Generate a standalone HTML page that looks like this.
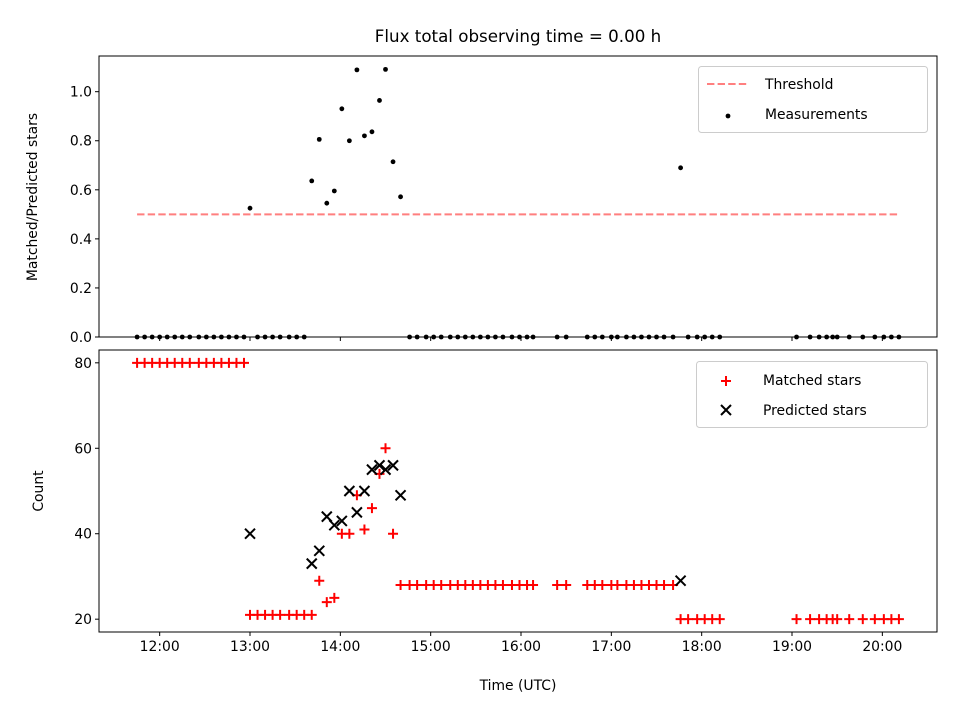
<!DOCTYPE html>
<html><head><meta charset="utf-8"><style>
body{margin:0;background:#fff}
svg{display:block;font-family:"DejaVu Sans","Liberation Sans",sans-serif}
</style></head><body>
<svg id="chart" width="960" height="720" viewBox="0 0 960 720"></svg>
<script>
// times in minutes since midnight (UTC)
const times = [705,710,715,720,725,730,735,740,746,751,756,761,766,771,776,
 780,785,790,795,800,806,811,816,821,
 826,831,836,841,846,851,856,861,866,870,875,880,
 886,891,897,902,907,913,918,923,928,933,938,943,948,954,959,964,968,
 984,990,
 1004,1009,1014,1020,1024,1030,1035,1040,1045,1050,1055,1061,
 1066,1071,1077,1082,1087,1092,
 1143,1152,1158,1163,1167,1170,1178,1187,1195,1201,1206,1211];
const matched = [80,80,80,80,80,80,80,80,80,80,80,80,80,80,80,
 21,21,21,21,21,21,21,21,21,
 29,24,25,40,40,49,41,46,54,60,40,28,
 28,28,28,28,28,28,28,28,28,28,28,28,28,28,28,28,28,
 28,28,
 28,28,28,28,28,28,28,28,28,28,28,28,
 20,20,20,20,20,20,
 20,20,20,20,20,20,20,20,20,20,20,20];
const predicted = [0,0,0,0,0,0,0,0,0,0,0,0,0,0,0,
 40,0,0,0,0,0,0,0,33,
 36,44,42,43,50,45,50,55,56,55,56,49,
 0,0,0,0,0,0,0,0,0,0,0,0,0,0,0,0,0,
 0,0,
 0,0,0,0,0,0,0,0,0,0,0,0,
 29,0,0,0,0,0,
 0,0,0,0,0,0,0,0,0,0,0,0];
const threshold = 0.5;
const xTicks = [720,780,840,900,960,1020,1080,1140,1200];
const topTicks = [0,0.2,0.4,0.6,0.8,1.0];
const botTicks = [20,40,60,80];

const svg = document.getElementById('chart');
const NS = 'http://www.w3.org/2000/svg';
function mk(tag, attrs, parent){const e=document.createElementNS(NS,tag);for(const k in attrs)e.setAttribute(k,attrs[k]);(parent||svg).appendChild(e);return e;}

const L=99,R=937, T1=56,B1=337, T2=350,B2=632;
const tmin=Math.min(...times), tmax=Math.max(...times), span=tmax-tmin;
const x0=tmin-0.05*span, x1=tmax+0.05*span;
const sx=t=>L+(t-x0)/(x1-x0)*(R-L);
const ratio=times.map((t,i)=>predicted[i]>0?matched[i]/predicted[i]:0);
const rmax=Math.max(...ratio);
const yTopMax=rmax*1.05;
const syT=v=>B1-v/yTopMax*(B1-T1);
const vals=matched.concat(predicted.filter(p=>p>0));
const bmin=Math.min(...vals), bmax=Math.max(...vals), bs=bmax-bmin;
const b0=bmin-0.05*bs, b1=bmax+0.05*bs;
const syB=v=>B2-(v-b0)/(b1-b0)*(B2-T2);

// title
let tt=mk('text',{x:518,y:42,'text-anchor':'middle','font-size':'16.7'});
tt.textContent='Flux total observing time = 0.00 h';



// top panel
const gTop=mk('g',{});


let th=mk('line',{x1:sx(tmin),x2:sx(tmax),y1:syT(threshold),y2:syT(threshold),stroke:'#ff7f7f','stroke-width':2,'stroke-dasharray':'7.4,3.2'},gTop);


times.forEach((t,i)=>{
  const c=mk('circle',{cx:sx(t),cy:syT(ratio[i]),r:2.4,fill:'#000'},gTop);
  
  
});
// bottom panel
const gBot=mk('g',{});


times.forEach((t,i)=>{
  const x=sx(t), y=syB(matched[i]);
  const p=mk('path',{d:`M${x-5},${y}H${x+5}M${x},${y-5}V${y+5}`,stroke:'#f00','stroke-width':2},gBot);
  
  
});
times.forEach((t,i)=>{
  if(predicted[i]<=0)return;
  const x=sx(t), y=syB(predicted[i]);
  const p=mk('path',{d:`M${x-5},${y-5}L${x+5},${y+5}M${x-5},${y+5}L${x+5},${y-5}`,stroke:'#000','stroke-width':2},gBot);
  
  
});

// axes frames
const f1=mk('rect',{x:L,y:T1,width:R-L,height:B1-T1,fill:'none',stroke:'#000','stroke-width':1});


const f2=mk('rect',{x:L,y:T2,width:R-L,height:B2-T2,fill:'none',stroke:'#000','stroke-width':1});



// x ticks
xTicks.forEach(t=>{
  const x=sx(t);
  mk('line',{x1:x,x2:x,y1:B1,y2:B1+4,stroke:'#000'});
  mk('line',{x1:x,x2:x,y1:B2,y2:B2+4,stroke:'#000'});
  const lb=mk('text',{x:x,y:B2+19,'text-anchor':'middle','font-size':'13.9'});
  lb.textContent=String(Math.floor(t/60)).padStart(2,'0')+':'+String(t%60).padStart(2,'0');
  
  
});
topTicks.forEach(v=>{
  const y=syT(v);
  mk('line',{x1:L-4,x2:L,y1:y,y2:y,stroke:'#000'});
  const lb=mk('text',{x:L-7,y:y+5,'text-anchor':'end','font-size':'13.9'});
  lb.textContent=v.toFixed(1);
  
  
});
botTicks.forEach(v=>{
  const y=syB(v);
  mk('line',{x1:L-4,x2:L,y1:y,y2:y,stroke:'#000'});
  const lb=mk('text',{x:L-7,y:y+5,'text-anchor':'end','font-size':'13.9'});
  lb.textContent=String(v);
  
  
});
let xl=mk('text',{x:518,y:690,'text-anchor':'middle','font-size':'13.9'});
xl.textContent='Time (UTC)';


let y1l=mk('text',{x:37,y:197,'text-anchor':'middle','font-size':'13.9',transform:'rotate(-90 37 197)'});
y1l.textContent='Matched/Predicted stars';


let y2l=mk('text',{x:43,y:491,'text-anchor':'middle','font-size':'13.9',transform:'rotate(-90 43 491)'});
y2l.textContent='Count';



// legends
const lg1=mk('g',{});


mk('rect',{x:698.5,y:66.5,width:229,height:66,rx:3,fill:'#fff',stroke:'#ccc'},lg1);
mk('line',{x1:707,x2:749,y1:84,y2:84,stroke:'#ff7f7f','stroke-width':2,'stroke-dasharray':'7.4,3.2'},lg1);
let a=mk('text',{x:765,y:89,'font-size':'13.9'},lg1);a.textContent='Threshold';
mk('circle',{cx:728,cy:116,r:2.4,fill:'#000'},lg1);
a=mk('text',{x:765,y:119,'font-size':'13.9'},lg1);a.textContent='Measurements';

const lg2=mk('g',{});


mk('rect',{x:696.5,y:361.5,width:231,height:66,rx:3,fill:'#fff',stroke:'#ccc'},lg2);
mk('path',{d:'M721,381H731M726,376V386',stroke:'#f00','stroke-width':2},lg2);
a=mk('text',{x:763,y:385,'font-size':'13.9'},lg2);a.textContent='Matched stars';
mk('path',{d:'M721,405L731,415M721,415L731,405',stroke:'#000','stroke-width':2},lg2);
a=mk('text',{x:763,y:415,'font-size':'13.9'},lg2);a.textContent='Predicted stars';
</script>
</body></html>
